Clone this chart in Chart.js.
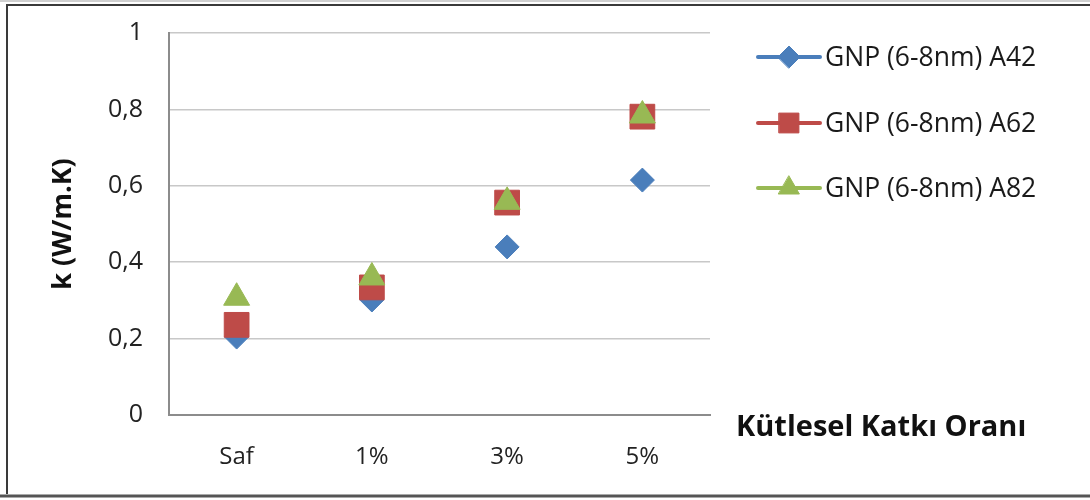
<!DOCTYPE html>
<html>
<head>
<meta charset="utf-8">
<script src="https://cdn.jsdelivr.net/npm/chart.js@4/dist/chart.umd.min.js"></script>
<style>
  html, body { margin: 0; padding: 0; background: #fff; }
  #chart { display: block; }
</style>
</head>
<body>
<canvas id="chart" width="1090" height="500"></canvas>
<script>
// categories and measured thermal conductivity k (W/m.K)
const categories = ['Saf', '1%', '3%', '5%'];
const seriesNames = ['GNP (6-8nm) A42', 'GNP (6-8nm) A62', 'GNP (6-8nm) A82'];
const a42 = [0.204, 0.301, 0.44, 0.615];
const a62 = [0.236, 0.334, 0.556, 0.781];
const a82 = [0.307, 0.36, 0.558, 0.784];
const yTicks = [0, 0.2, 0.4, 0.6, 0.8, 1];
const xTitle = 'Kütlesel Katkı Oranı';
const yTitle = 'k (W/m.K)';

const FONT = '"Open Sans", "Noto Sans", sans-serif';
const colors = ['#4a7ebb', '#be4b48', '#98b954'];
const styles = ['rectRot', 'rect', 'triangle'];
const radii = [12, 17.5, 15];

function makeSet(i, data) {
  return {
    label: seriesNames[i],
    data,
    showLine: false,
    pointStyle: styles[i],
    pointRadius: radii[i],
    pointHoverRadius: radii[i],
    pointBackgroundColor: colors[i],
    pointBorderColor: colors[i],
    pointBorderWidth: 1,
    borderColor: colors[i],
    backgroundColor: colors[i],
    order: 3 - i   // later series sit on top
  };
}

// legend with line + marker, the x title to the right, and the outer frame
const decorations = {
  id: 'decorations',
  afterDraw(chart) {
    const ctx = chart.ctx;
    ctx.save();
    // frame
    ctx.strokeStyle = '#d0d0d0';
    ctx.lineWidth = 2;
    ctx.beginPath(); ctx.moveTo(0, 1); ctx.lineTo(1090, 1); ctx.stroke();
    ctx.strokeStyle = '#3a3a3a';
    ctx.lineWidth = 2;
    ctx.beginPath();
    ctx.moveTo(1090, 5); ctx.lineTo(7, 5); ctx.lineTo(7, 494);
    ctx.stroke();
    ctx.strokeStyle = '#555';
    ctx.lineWidth = 3;
    ctx.beginPath(); ctx.moveTo(0, 496); ctx.lineTo(1090, 496); ctx.stroke();

    // legend
    const ys = [57, 123, 188];
    chart.data.datasets.forEach((ds, i) => {
      const y = ys[i];
      ctx.strokeStyle = ds.borderColor;
      ctx.lineWidth = 4;
      ctx.lineCap = 'round';
      ctx.beginPath(); ctx.moveTo(758, y); ctx.lineTo(820, y); ctx.stroke();
      ctx.fillStyle = ds.pointBackgroundColor;
      ctx.strokeStyle = ds.pointBorderColor;
      ctx.lineWidth = 1;
      Chart.helpers.drawPoint(ctx, {
        pointStyle: ds.pointStyle,
        radius: [11, 14, 12][i],
        rotation: 0,
        borderWidth: 1
      }, 789, y);
      ctx.fillStyle = '#1a1a1a';
      ctx.font = '26.5px ' + FONT;
      ctx.textAlign = 'left';
      ctx.textBaseline = 'middle';
      ctx.fillText(ds.label, 825, y + 1);
    });

    // x axis title
    ctx.fillStyle = '#111';
    ctx.font = 'bold 29px ' + FONT;
    ctx.textAlign = 'left';
    ctx.textBaseline = 'middle';
    ctx.fillText(xTitle, 736, 428);
    ctx.restore();
  }
};

new Chart(document.getElementById('chart'), {
  type: 'line',
  data: {
    labels: categories,
    datasets: [makeSet(0, a42), makeSet(1, a62), makeSet(2, a82)]
  },
  options: {
    responsive: false,
    animation: false,
    layout: { autoPadding: false, padding: { left: 0, top: 33, right: 380, bottom: 0 } },
    plugins: { legend: { display: false }, tooltip: { enabled: false } },
    scales: {
      x: {
        offset: true,
        grid: { display: false, drawTicks: false },
        border: { color: '#8c8c8c', width: 2 },
        ticks: { color: '#222', font: { family: FONT, size: 24 }, padding: 28 },
        afterFit(s) { s.height = 85; }
      },
      y: {
        min: 0,
        max: 1,
        afterBuildTicks(s) { s.ticks = yTicks.map(v => ({ value: v })); },
        grid: { color: '#c8c8c8', lineWidth: 1.5, drawTicks: false },
        border: { color: '#8c8c8c', width: 2 },
        ticks: {
          color: '#222',
          font: { family: FONT, size: 25 },
          padding: 26,
          callback: v => String(v).replace('.', ',')
        },
        title: {
          display: true,
          text: yTitle,
          color: '#111',
          font: { family: FONT, size: 27, weight: 'bold' },
          padding: { top: 47, bottom: 0 }
        },
        // fixed axis width; tick padding should not push the plot down
        afterFit(s) { s.width = 169; s.paddingTop = 16; s.paddingBottom = 16; }
      }
    }
  },
  plugins: [decorations]
});
</script>
</body>
</html>
